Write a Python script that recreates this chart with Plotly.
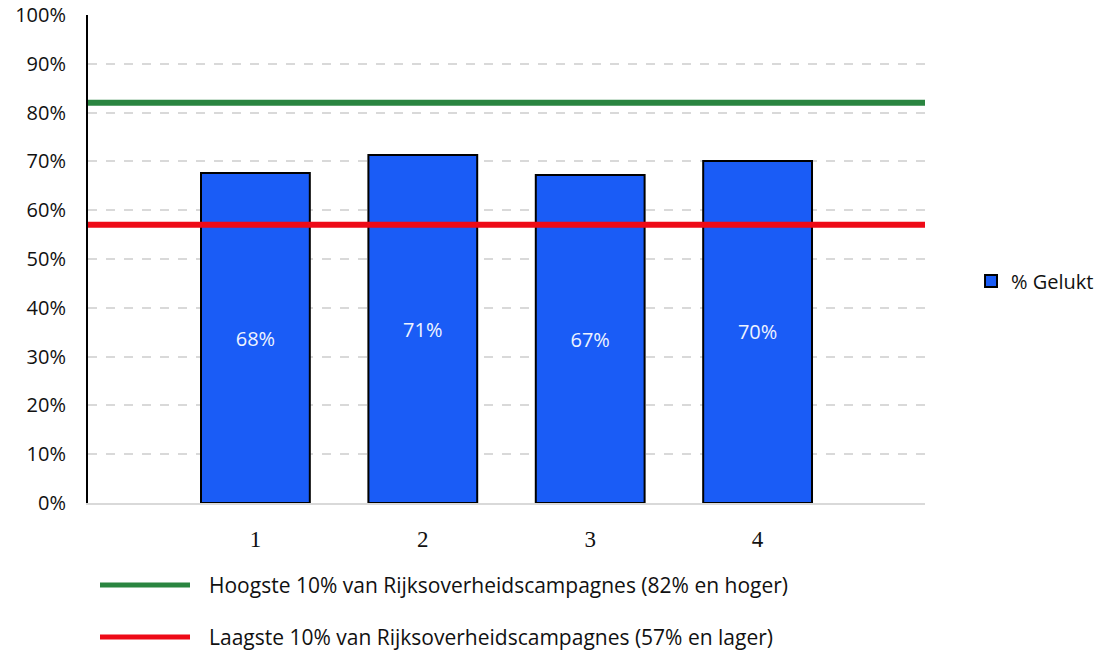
import plotly.graph_objects as go

# Campaign scores (share of respondents that found the campaign "gelukt")
campaigns = [1, 2, 3, 4]
gelukt = [0.676, 0.713, 0.672, 0.701]

# Benchmarks for Rijksoverheid campaigns
top10_value = 0.82
bottom10_value = 0.57
top10_label = "Hoogste 10% van Rijksoverheidscampagnes (82% en hoger)"
bottom10_label = "Laagste 10% van Rijksoverheidscampagnes (57% en lager)"
x_span = [0, 5]

BLUE = "#1A5CF6"
GREEN = "#2A8540"
RED = "#EE0A17"
FONT = "'Open Sans', Lato, sans-serif"

fig = go.Figure()

fig.add_trace(go.Bar(
    x=campaigns,
    y=gelukt,
    name="% Gelukt",
    width=0.65,
    marker=dict(color=BLUE, line=dict(color="#000000", width=2)),
    texttemplate="%{y:.0%}",
    textposition="inside",
    insidetextanchor="middle",
    textfont=dict(family=FONT, size=20, color="#EEF3FF"),
    showlegend=True,
))

fig.add_trace(go.Scatter(
    x=x_span, y=[top10_value] * 2, mode="lines",
    line=dict(color=GREEN, width=6), showlegend=False, hoverinfo="skip",
))
fig.add_trace(go.Scatter(
    x=x_span, y=[bottom10_value] * 2, mode="lines",
    line=dict(color=RED, width=6), showlegend=False, hoverinfo="skip",
))

# Benchmark key below the plot
key_rows = [(top10_label, GREEN, -0.168), (bottom10_label, RED, -0.2746)]
for text, color, yy in key_rows:
    fig.add_shape(type="line", xref="paper", yref="paper",
                  x0=(100 - 88) / 837, x1=(190 - 88) / 837, y0=yy, y1=yy,
                  line=dict(color=color, width=5))
    fig.add_annotation(xref="paper", yref="paper", x=(207 - 88) / 837, y=yy,
                       xanchor="left", yanchor="middle", text=text, showarrow=False,
                       font=dict(family=FONT, size=21, color="#111111"))

fig.update_layout(
    width=1099, height=652,
    margin=dict(l=88, r=174, t=15, b=149, autoexpand=False),
    paper_bgcolor="white", plot_bgcolor="white",
    bargap=0.35,
    legend=dict(x=1.055, y=0.455, xanchor="left", yanchor="middle",
                font=dict(family=FONT, size=20, color="#111111"),
                itemwidth=30, bgcolor="rgba(0,0,0,0)"),
    font=dict(family=FONT),
)

fig.update_xaxes(
    range=x_span, tickmode="array", tickvals=campaigns,
    ticktext=[str(c) for c in campaigns],
    tickfont=dict(family="'Liberation Serif', serif", size=23, color="#111111"),
    showgrid=False, zeroline=False,
    showline=True, linecolor="#D9D9D9", linewidth=2,
    ticks="", ticklabelstandoff=14, automargin=False,
)
fig.update_yaxes(
    range=[0, 1], tickvals=[i / 10 for i in range(11)], tickformat=".0%",
    tickfont=dict(family=FONT, size=20, color="#111111"),
    showgrid=True, gridcolor="#D9D9D9", gridwidth=2, griddash="dash",
    zeroline=False, showline=True, linecolor="#000000", linewidth=2,
    ticks="", ticklabelstandoff=16, automargin=False,
)

fig.write_html("out.html")
